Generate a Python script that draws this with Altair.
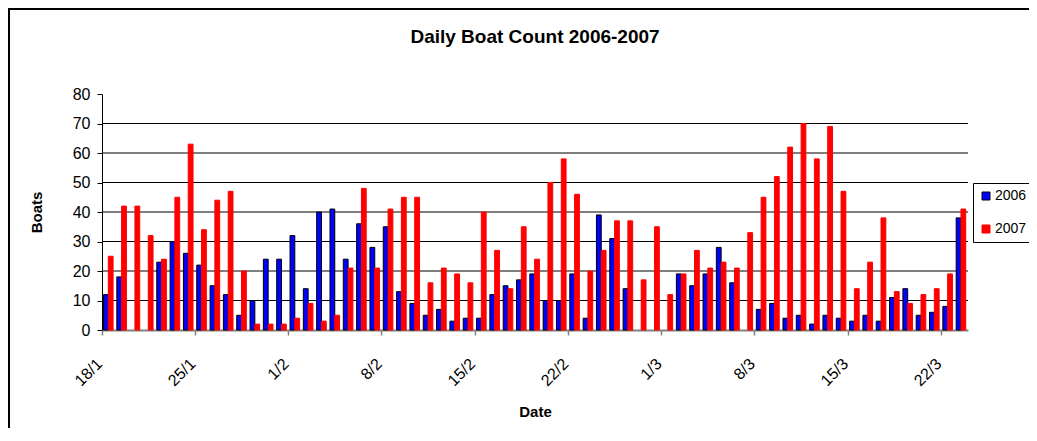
import altair as alt
import pandas as pd

dates = [
    "18/1", "19/1", "20/1", "21/1", "22/1", "23/1", "24/1", "25/1", "26/1", "27/1", "28/1", "29/1", "30/1", "31/1",
    "1/2", "2/2", "3/2", "4/2", "5/2", "6/2", "7/2", "8/2", "9/2", "10/2", "11/2", "12/2", "13/2", "14/2",
    "15/2", "16/2", "17/2", "18/2", "19/2", "20/2", "21/2", "22/2", "23/2", "24/2", "25/2", "26/2", "27/2", "28/2",
    "1/3", "2/3", "3/3", "4/3", "5/3", "6/3", "7/3", "8/3", "9/3", "10/3", "11/3", "12/3", "13/3", "14/3",
    "15/3", "16/3", "17/3", "18/3", "19/3", "20/3", "21/3", "22/3", "23/3",
]
v2006 = [
    12, 18, None, None, 23, 30, 26, 22, 15, 12, 5, 10, 24, 24,
    32, 14, 40, 41, 24, 36, 28, 35, 13, 9, 5, 7, 3, 4,
    4, 12, 15, 17, 19, 10, 10, 19, 4, 39, 31, 14, None, None,
    None, 19, 15, 19, 28, 16, None, 7, 9, 4, 5, 2, 5, 4,
    3, 5, 3, 11, 14, 5, 6, 8, 38,
]
v2007 = [
    25, 42, 42, 32, 24, 45, 63, 34, 44, 47, 20, 2, 2, 2,
    4, 9, 3, 5, 21, 48, 21, 41, 45, 45, 16, 21, 19, 16,
    40, 27, 14, 35, 24, 50, 58, 46, 20, 27, 37, 37, 17, 35,
    12, 19, 27, 21, 23, 21, 33, 45, 52, 62, 70, 58, 69, 47,
    14, 23, 38, 13, 9, 12, 14, 19, 41,
]
years = ["2006", "2007"]
tick_labels = ["18/1", "25/1", "1/2", "8/2", "15/2", "22/2", "1/3", "8/3", "15/3", "22/3"]
y_ticks = [0, 10, 20, 30, 40, 50, 60, 70, 80]
grid_vals = [10, 20, 30, 40, 50, 60, 70]

rows = []
for d, a, b in zip(dates, v2006, v2007):
    rows.append({"date": d, "year": "2006", "boats": a})
    rows.append({"date": d, "year": "2007", "boats": b})
df = pd.DataFrame(rows)

W, H = 866, 236
FONT = "Liberation Sans"

yscale = alt.Scale(domain=[0, 80], nice=False, zero=True)

x_enc = alt.X(
    "date:N", sort=dates,
    scale=alt.Scale(paddingInner=0, paddingOuter=0),
    axis=alt.Axis(
        values=tick_labels, bandPosition=0, labelAngle=-45, labelAlign="right",
        labelBaseline="middle", labelFontSize=16, labelFont=FONT, labelColor="black",
        labelPadding=26, labelOffset=-9,
        domainColor="#808080", domainWidth=2, tickColor="#808080", tickSize=5, tickWidth=1.5,
        grid=False, title="Date", titleFont=FONT, titleFontSize=15, titleFontWeight="bold",
        titleX=W / 2, titleY=81, titleBaseline="middle", titleColor="black",
    ),
)

y_axis = alt.Axis(
    values=y_ticks, grid=False, domainColor="black", domainWidth=1, tickColor="black",
    tickSize=5, tickWidth=1, labelFontSize=16, labelFont=FONT, labelColor="black",
    labelPadding=7, title="Boats", titleFont=FONT, titleFontSize=15, titleFontWeight="bold",
    titleColor="black", titleX=-66, titleY=H / 2, titleBaseline="middle", titleAngle=270,
)
y_enc = alt.Y("boats:Q", scale=yscale, axis=y_axis)

legend = alt.Legend(
    title=None, orient="none", legendX=871, legendY=89, strokeColor="black", fillColor="white",
    padding=6, symbolType="square", symbolSize=64, symbolStrokeWidth=1, labelFontSize=14,
    labelFont=FONT, labelColor="black", rowPadding=19, labelOffset=2,
)

grid = alt.Chart(pd.DataFrame({"boats": grid_vals})).mark_rule(color="black", strokeWidth=1).encode(
    y=y_enc
)

bars = alt.Chart(df).mark_bar(strokeWidth=1).encode(
    x=x_enc,
    xOffset=alt.XOffset("year:N", scale=alt.Scale(domain=years, paddingInner=0, paddingOuter=0.39, align=0.4)),
    y=y_enc,
    color=alt.Color("year:N", scale=alt.Scale(domain=years, range=["#0000FF", "#FF0000"]), legend=legend),
    stroke=alt.Stroke("year:N", scale=alt.Scale(domain=years, range=["#000000", "#FF0000"]), legend=legend),
)

border = alt.Chart(alt.Data(values=[{}])).mark_rect(fillOpacity=0, stroke="black", strokeWidth=2).encode(
    x=alt.value(-93), x2=alt.value(W + 200), y=alt.value(-85), y2=alt.value(H + 200)
)

chart = alt.layer(grid, bars, border).properties(
    width=W, height=H,
    title=alt.TitleParams(
        "Daily Boat Count 2006-2007", font=FONT, fontSize=19, fontWeight="bold",
        anchor="middle", frame="group", baseline="alphabetic", offset=-54, color="black",
    ),
    background="white",
    padding={"left": 94, "top": 86, "right": 61, "bottom": 98},
    autosize=alt.AutoSizeParams(type="none"),
).configure_view(stroke=None)

chart.save("out.html", embed_options={"renderer": "svg", "actions": False})
